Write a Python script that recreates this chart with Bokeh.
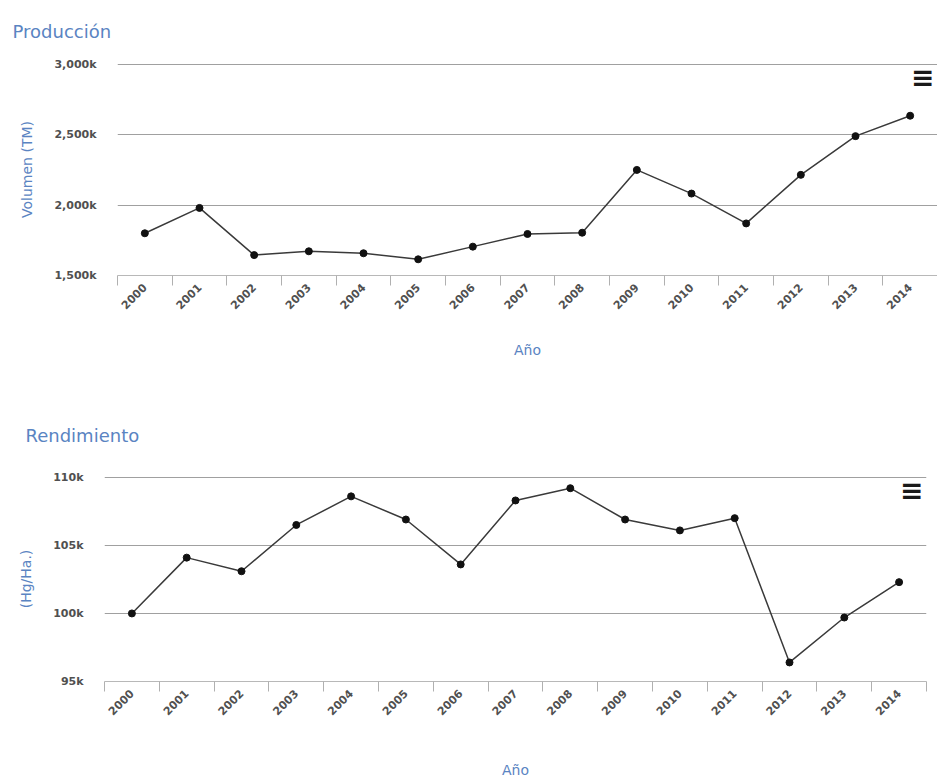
import math
from bokeh.plotting import figure
from bokeh.models import FixedTicker, Range1d, Label
from bokeh.embed import file_html
from bokeh.resources import INLINE

# ---- data ----
years = ["2000", "2001", "2002", "2003", "2004", "2005", "2006", "2007",
         "2008", "2009", "2010", "2011", "2012", "2013", "2014"]
produccion_k = [1800, 1980, 1645, 1672, 1658, 1615, 1705, 1795, 1804,
                2250, 2082, 1870, 2215, 2490, 2635]
rendimiento_k = [100.0, 104.1, 103.1, 106.5, 108.6, 106.9, 103.6, 108.3,
                 109.2, 106.9, 106.1, 107.0, 96.4, 99.7, 102.3]
prod_ticks = [1500, 2000, 2500, 3000]
prod_tick_labels = ["1,500k", "2,000k", "2,500k", "3,000k"]
rend_ticks = [95, 100, 105, 110]
rend_tick_labels = ["95k", "100k", "105k", "110k"]

TITLE_COLOR = "#5a84c2"
TICK_COLOR = "#505050"
GRID_COLOR = "#a0a0a0"
FONT = "DejaVu Sans"

xs = list(range(len(years)))


def make_chart(title, ytitle, values, yticks, ylabels, width, height,
               left, right, top, bottom, title_offset, title_standoff,
               xlabel_standoff):
    span = yticks[-1] - yticks[0]
    p = figure(width=width, height=height, output_backend="svg",
               toolbar_location=None, tools="",
               x_range=Range1d(-0.5, len(years) - 0.5),
               y_range=Range1d(yticks[0], yticks[-1] + span * 0.004),
               min_border_left=left, min_border_right=right,
               min_border_top=top, min_border_bottom=bottom)
    p.outline_line_color = None
    p.background_fill_color = "white"
    p.border_fill_color = "white"

    # title
    p.title.text = title
    p.title.align = "left"
    p.title.vertical_align = "top"
    p.title.offset = title_offset
    p.title.standoff = title_standoff
    p.title.text_font = FONT
    p.title.text_font_size = "18px"
    p.title.text_font_style = "normal"
    p.title.text_color = TITLE_COLOR

    # x axis
    xa = p.xaxis[0]
    xa.ticker = FixedTicker(ticks=xs,
                            minor_ticks=[i - 0.5 for i in range(len(years) + 1)])
    xa.major_label_overrides = {i: y for i, y in enumerate(years)}
    xa.major_label_orientation = math.pi / 4
    xa.major_tick_out = 0
    xa.major_tick_in = 0
    xa.minor_tick_out = 10
    xa.minor_tick_in = 0
    xa.minor_tick_line_color = "#b0b0b0"
    xa.axis_line_color = "#b8b8b8"
    xa.major_label_text_font = FONT
    xa.major_label_text_font_size = "11px"
    xa.major_label_text_font_style = "bold"
    xa.major_label_text_color = TICK_COLOR
    xa.major_label_standoff = 0
    xa.axis_label = "Año"
    xa.axis_label_text_font = FONT
    xa.axis_label_text_font_size = "14px"
    xa.axis_label_text_font_style = "normal"
    xa.axis_label_text_color = TITLE_COLOR
    xa.axis_label_standoff = xlabel_standoff

    # y axis
    ya = p.yaxis[0]
    ya.ticker = FixedTicker(ticks=yticks)
    ya.major_label_overrides = {t: l for t, l in zip(yticks, ylabels)}
    ya.axis_line_color = None
    ya.major_tick_line_color = None
    ya.minor_tick_line_color = None
    ya.major_label_text_font = FONT
    ya.major_label_text_font_size = "11px"
    ya.major_label_text_font_style = "bold"
    ya.major_label_text_color = TICK_COLOR
    ya.major_label_standoff = 15
    ya.axis_label = ytitle
    ya.axis_label_text_font = FONT
    ya.axis_label_text_font_size = "14px"
    ya.axis_label_text_font_style = "normal"
    ya.axis_label_text_color = TITLE_COLOR
    ya.axis_label_standoff = 16

    p.xgrid.grid_line_color = None
    p.ygrid.ticker = FixedTicker(ticks=yticks)
    p.ygrid.grid_line_color = GRID_COLOR
    p.ygrid.grid_line_width = 1.2

    p.line(xs, values, line_color="#3a3a3a", line_width=1.5)
    p.scatter(xs, values, size=7, fill_color="#111111", line_color="#111111")

    # export-menu icon
    p.add_layout(Label(x=len(years) - 0.5, y=yticks[-1], x_offset=-3, y_offset=3,
                       text="≡", text_align="right", text_baseline="top",
                       text_font=FONT, text_font_size="28px",
                       text_font_style="bold", text_color="#1a1a1a"))
    return p


p1 = make_chart("Producción", "Volumen (TM)", produccion_k, prod_ticks,
                prod_tick_labels, width=937, height=395, left=117, right=0,
                top=63, bottom=120, title_offset=-105, title_standoff=39,
                xlabel_standoff=26)
p2 = make_chart("Rendimiento", "(Hg/Ha.)", rendimiento_k, rend_ticks,
                rend_tick_labels, width=937, height=385, left=104, right=11,
                top=81, bottom=87, title_offset=-79, title_standoff=57,
                xlabel_standoff=40)

open("out.html", "w").write(file_html([p1, p2], INLINE))
